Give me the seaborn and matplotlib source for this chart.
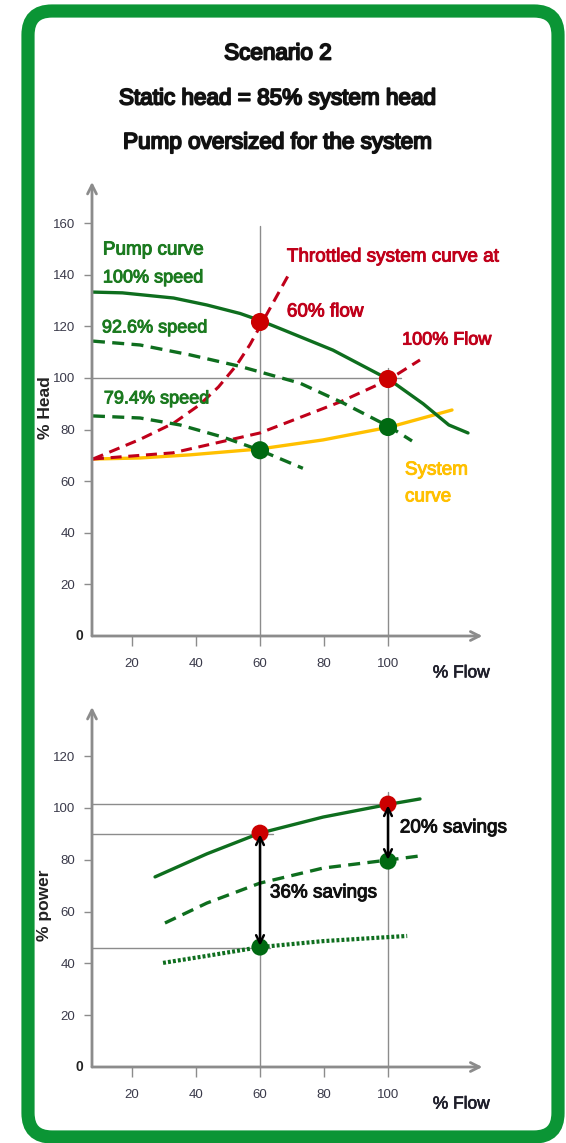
import matplotlib
matplotlib.use('Agg')
import matplotlib.pyplot as plt
import matplotlib.patheffects as pe
import seaborn as sns
from matplotlib.patches import FancyBboxPatch

# ---------------- data ----------------
# Top chart: % Head vs % Flow
pump100_x = [7.8, 17, 33, 43.4, 53.8, 60, 67, 82.8, 100.6, 111, 119, 125]
pump100_y = [133.3, 133, 131, 128.3, 125, 122.3, 118.8, 110.8, 99.2, 90, 81.8, 78.7]
pump926_x = [7.8, 22.5, 38, 53.8, 72.5, 86, 100.6, 107.5]
pump926_y = [114.3, 112.8, 109, 104.5, 98, 90.3, 81, 75.6]
pump794_x = [7.8, 22.5, 35, 48.4, 60, 73.4]
pump794_y = [85.3, 84.5, 81.8, 77.1, 72, 65]
system_x = [7.8, 22.5, 38, 60, 79.7, 100.6, 120]
system_y = [68.6, 69, 70.2, 72.5, 76, 81, 87.6]
thr60_x = [7.8, 22.5, 33, 41, 47, 52.7, 56.9, 60, 69.2]
thr60_y = [68.6, 76.2, 82.5, 89.5, 96.5, 105, 113, 120, 140.6]
thr100_x = [7.8, 32.8, 60, 85, 100, 110]
thr100_y = [68.6, 71, 78.7, 90.7, 99.2, 107]
red_pts_x = [60, 100]
red_pts_y = [121.7, 99.6]
green_pts_x = [60, 100]
green_pts_y = [72, 81]
head_ticks = [20, 40, 60, 80, 100, 120, 140, 160]
flow_ticks = [20, 40, 60, 80, 100]

# Bottom chart: % power vs % Flow
pw100_x = [27.2, 43.4, 60, 79.7, 100.6, 110]
pw100_y = [73.4, 82.3, 90.3, 96.5, 101.5, 103.5]
pw926_x = [30.3, 43.4, 60, 79.7, 100.6, 110]
pw926_y = [55.6, 63.3, 71, 76.8, 80, 81.5]
pw794_x = [29.7, 43.4, 60, 79.7, 100.6, 106]
pw794_y = [40.2, 42.9, 46.3, 48.6, 50.2, 50.6]
pw_red_x = [60, 100]
pw_red_y = [90.3, 101.5]
pw_green_x = [60, 100]
pw_green_y = [46.3, 79.5]
power_ticks = [20, 40, 60, 80, 100, 120]

# ---------------- style ----------------
sns.set_theme(style='white')
plt.rcParams['font.family'] = ['Liberation Sans', 'DejaVu Sans']

DGREEN = '#0E6E1E'
TGREEN = '#1B7A1F'
RED = '#C0001A'
ORANGE = '#FFC000'
GREY = '#8C8C8C'
TICKC = '#3A3A4A'

def heavy(color, w=0.6):
    return [pe.withStroke(linewidth=w, foreground=color)]

W, H = 566, 1143
fig = plt.figure(figsize=(W / 100, H / 100), dpi=100)

# px/unit: x 3.2 (x=0 at 68px); top y 2.58 (y=0 at 636px); bottom y 2.59 (y=0 at 1067)
X0, XMAX = 7.5, 131
def make_ax(y0px, ppu, ymax):
    left = 68 + 3.2 * X0
    right = 68 + 3.2 * XMAX
    top = y0px - ppu * ymax
    ax = fig.add_axes([left / W, (H - y0px) / H, (right - left) / W, (y0px - top) / H])
    ax.set_xlim(X0, XMAX)
    ax.set_ylim(0, ymax)
    for s in ['top', 'right', 'left', 'bottom']:
        ax.spines[s].set_visible(False)
    ax.patch.set_alpha(0)
    return ax

def decorate(ax, yticks, ymax_arrow):
    ax.set_yticks(yticks)
    ax.set_yticklabels([str(t) for t in yticks])
    ax.set_xticks(flow_ticks)
    ax.set_xticklabels([str(t) for t in flow_ticks])
    ax.tick_params(axis='y', direction='out', length=6, width=1, color=GREY,
                   labelsize=9.5, labelcolor=TICKC, pad=6, left=True)
    ax.tick_params(axis='x', direction='out', length=7, width=1, color=GREY,
                   labelsize=9.5, labelcolor=TICKC, pad=9, bottom=True)
    ax.annotate('', xy=(XMAX - 1.5, 0), xytext=(X0, 0),
                arrowprops=dict(arrowstyle='->', color=GREY, lw=2, mutation_scale=16,
                                shrinkA=0, shrinkB=0), annotation_clip=False)
    ax.annotate('', xy=(X0, ymax_arrow), xytext=(X0, 0),
                arrowprops=dict(arrowstyle='->', color=GREY, lw=2, mutation_scale=16,
                                shrinkA=0, shrinkB=0), annotation_clip=False)

def curve(ax, x, y, color, lw, ls):
    sns.lineplot(x=x, y=y, ax=ax, color=color, linewidth=lw, linestyle=ls,
                 sort=False, estimator=None)

DASH = (0, (3.6, 2.2))

# ---------------- top chart ----------------
ax1 = make_ax(636, 2.58, 177)
decorate(ax1, head_ticks, 176)
ax1.plot([60, 60], [0, 159], color=GREY, lw=1, zorder=1)
ax1.plot([100, 100], [0, 104], color=GREY, lw=1, zorder=1)
ax1.plot([X0, 104], [100, 100], color=GREY, lw=1, zorder=1)

curve(ax1, system_x, system_y, ORANGE, 2.4, '-')
curve(ax1, thr60_x, thr60_y, RED, 2.2, DASH)
curve(ax1, thr100_x, thr100_y, RED, 2.2, DASH)
curve(ax1, pump100_x, pump100_y, DGREEN, 2.4, '-')
curve(ax1, pump926_x, pump926_y, DGREEN, 2.4, DASH)
curve(ax1, pump794_x, pump794_y, DGREEN, 2.4, DASH)
sns.scatterplot(x=red_pts_x, y=red_pts_y, ax=ax1, color='#CC0000', s=170,
                edgecolor='none', zorder=5)
sns.scatterplot(x=green_pts_x, y=green_pts_y, ax=ax1, color='#006A12', s=170,
                edgecolor='none', zorder=5)

def label(ax, x, y, s, color, size=13.6):
    ax.text(x, y, s, color=color, fontsize=size, ha='left', va='center',
            path_effects=heavy(color, 0.7))

label(ax1, 10.9, 149.6, 'Pump curve', TGREEN)
label(ax1, 10.9, 138.8, '100% speed', TGREEN, 13.0)
label(ax1, 10.6, 119.4, '92.6% speed', TGREEN, 13.0)
label(ax1, 11.2, 91.9, '79.4% speed', TGREEN, 13.0)
label(ax1, 68.4, 146.9, 'Throttled system curve at', RED)
label(ax1, 68.4, 125.6, '60% flow', RED)
label(ax1, 104.4, 114.7, '100% Flow', RED, 13.0)
label(ax1, 105.3, 64.3, 'System', ORANGE)
label(ax1, 105.3, 53.9, 'curve', ORANGE)
ax1.text(114, -14.3, '% Flow', color='#1E1E2A', fontsize=12.5, ha='left', va='center',
         clip_on=False, path_effects=heavy('#1E1E2A', 0.5))

# ---------------- bottom chart ----------------
ax2 = make_ax(1067, 2.59, 140)
decorate(ax2, power_ticks, 139)
ax2.plot([60, 60], [0, 92], color=GREY, lw=1, zorder=1)
ax2.plot([100, 100], [0, 106], color=GREY, lw=1, zorder=1)
ax2.plot([X0, 100], [101.5, 101.5], color=GREY, lw=1, zorder=1)
ax2.plot([X0, 64], [90, 90], color=GREY, lw=1, zorder=1)
ax2.plot([X0, 63], [46, 46], color=GREY, lw=1, zorder=1)

curve(ax2, pw100_x, pw100_y, DGREEN, 2.4, '-')
curve(ax2, pw926_x, pw926_y, DGREEN, 2.4, DASH)
curve(ax2, pw794_x, pw794_y, DGREEN, 3.0, (0, (0.7, 0.5)))
sns.scatterplot(x=pw_red_x, y=pw_red_y, ax=ax2, color='#CC0000', s=150,
                edgecolor='none', zorder=5)
sns.scatterplot(x=pw_green_x, y=pw_green_y, ax=ax2, color='#006A12', s=150,
                edgecolor='none', zorder=5)
for xa, ya, yb in [(60, pw_green_y[0], pw_red_y[0]), (100, pw_green_y[1], pw_red_y[1])]:
    ax2.annotate('', xy=(xa, yb - 0.5), xytext=(xa, ya + 0.5),
                 arrowprops=dict(arrowstyle='<->', color='black', lw=1.8,
                                 mutation_scale=14, shrinkA=0, shrinkB=0), zorder=6)
label(ax2, 103.7, 92.3, '20% savings', '#111111', 13.6)
label(ax2, 63.1, 67.2, '36% savings', '#111111', 13.6)
ax2.text(114, -14.3, '% Flow', color='#1E1E2A', fontsize=12.5, ha='left', va='center',
         clip_on=False, path_effects=heavy('#1E1E2A', 0.5))

# ---------------- figure texts ----------------
def ftext(px, py, s, **kw):
    fig.text(px / W, 1 - py / H, s, **kw)

TITLE = dict(fontsize=16.2, ha='center', va='center', color='#111111',
             path_effects=heavy('#111111', 1.3))
ftext(278, 54, 'Scenario 2', **TITLE)
ftext(278, 99, 'Static head = 85% system head', **TITLE)
ftext(278, 143, 'Pump oversized for the system', **TITLE)
ftext(45, 408, '% Head', rotation=90, fontsize=12.5, fontweight='bold', ha='center',
      va='center', color='#222222')
ftext(45, 905, '% power', rotation=90, fontsize=12.5, fontweight='bold', ha='center',
      va='center', color='#222222')
ftext(79, 636, '0', fontsize=10, fontweight='bold', ha='center', va='center', color='#222222')
ftext(79, 1067, '0', fontsize=10, fontweight='bold', ha='center', va='center', color='#222222')

# green rounded frame (in inches)
frame = FancyBboxPatch((0.28, (H - 1137) / 100), 5.30, (1137 - 11) / 100,
                       boxstyle='round,pad=0,rounding_size=0.24',
                       transform=fig.dpi_scale_trans, facecolor='none',
                       edgecolor='#0B9535', linewidth=9.5)
fig.add_artist(frame)

fig.savefig('out.png', dpi=100)
